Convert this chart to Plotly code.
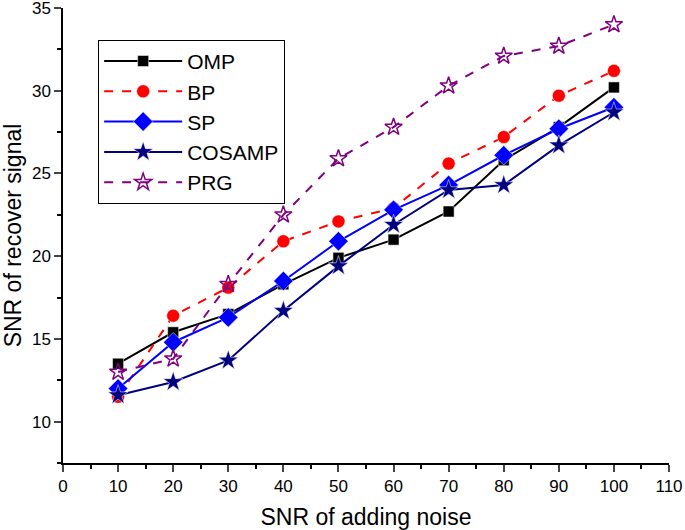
import plotly.graph_objects as go

x_noise = [10, 20, 30, 40, 50, 60, 70, 80, 90, 100]
omp = [13.5, 15.4, 16.5, 18.3, 19.9, 21.0, 22.7, 25.8, 27.8, 30.2]
bp = [11.5, 16.4, 18.1, 20.9, 22.1, 22.9, 25.6, 27.2, 29.7, 31.2]
sp = [12.0, 14.8, 16.3, 18.5, 20.9, 22.8, 24.3, 26.1, 27.7, 29.0]
cosamp = [11.6, 12.4, 13.7, 16.7, 19.4, 21.9, 24.0, 24.3, 26.7, 28.7]
prg = [13.0, 13.8, 18.3, 22.5, 25.9, 27.8, 30.3, 32.1, 32.7, 34.0]

x_ticks = list(range(0, 111, 10))
y_ticks = [10, 15, 20, 25, 30, 35]

FONT = "Liberation Sans, Arial, sans-serif"

fig = go.Figure()
series = [
    ("OMP", omp, "black", "solid", "square", 11),
    ("BP", bp, "red", "dash", "circle", 13),
    ("SP", sp, "#0000FF", "solid", "diamond", 15),
    ("COSAMP", cosamp, "#000080", "solid", "star", 15),
    ("PRG", prg, "#800080", "dash", "star-open", 13),
]
for name, ys, col, dash, sym, sz in series:
    fig.add_trace(go.Scatter(
        x=x_noise, y=ys, name=name, mode="lines+markers",
        line=dict(color=col, width=2, dash=dash),
        marker=dict(symbol=sym, size=sz, color=col,
                    line=dict(color=col if sym == "star-open" else "white",
                              width=1.5 if sym == "star-open" else 0.5)),
        cliponaxis=False,
    ))

fig.update_layout(
    width=685, height=530,
    margin=dict(l=63, r=16, t=8, b=67),
    paper_bgcolor="white", plot_bgcolor="white",
    font=dict(family=FONT, size=17, color="black"),
    showlegend=True,
    legend=dict(x=0.058, y=0.93, xanchor="left", yanchor="top",
                bordercolor="black", borderwidth=1, bgcolor="white",
                font=dict(size=21, family=FONT), tracegroupgap=0,
                itemwidth=78),
    xaxis=dict(range=[0, 110], tickvals=x_ticks, ticks="outside", ticklen=7, tickwidth=1.5,
               showline=True, linecolor="black", linewidth=1.5, showgrid=False, zeroline=False,
               automargin=False, ticklabeloverflow="allow",
               minor=dict(dtick=5, ticks="outside", ticklen=4, tickwidth=1.5, tickcolor="black", showgrid=False),
               title=dict(text="SNR of adding noise", font=dict(size=23)),
               tickfont=dict(size=17)),
    yaxis=dict(range=[7.5, 35], tickvals=y_ticks, ticks="outside", ticklen=7, tickwidth=1.5,
               showline=True, linecolor="black", linewidth=1.5, showgrid=False, zeroline=False,
               automargin=False, ticklabeloverflow="allow",
               minor=dict(tick0=0, dtick=2.5, ticks="outside", ticklen=4, tickwidth=1.5, tickcolor="black", showgrid=False),
               title=dict(text="SNR of recover signal", font=dict(size=23)),
               tickfont=dict(size=17)),
)

fig.write_html("out.html", config={"displayModeBar": False},
               post_script="document.body.style.margin='0px';")
